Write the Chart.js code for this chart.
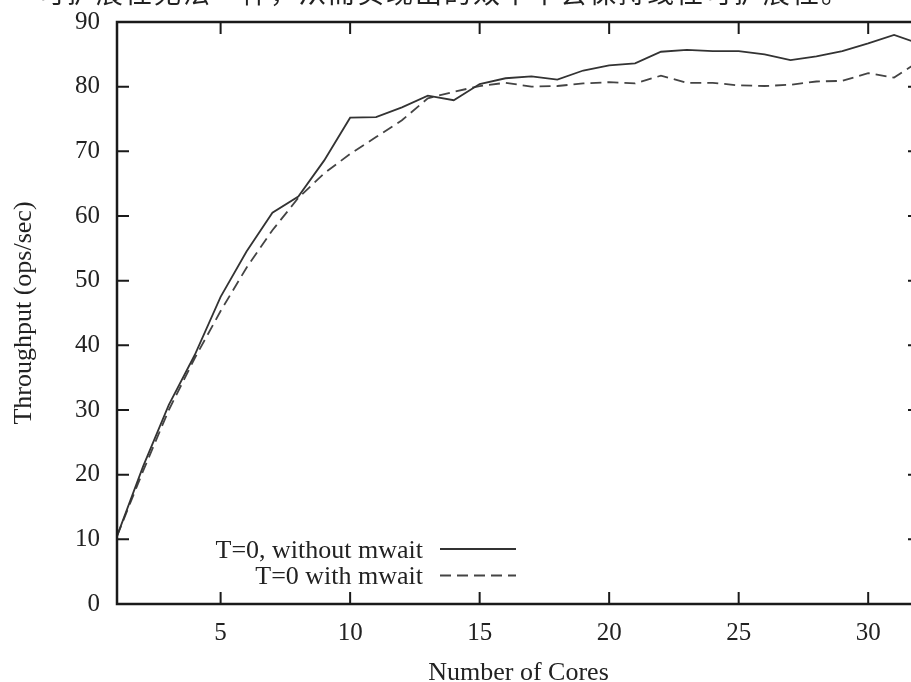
<!DOCTYPE html>
<html><head><meta charset="utf-8">
<script src="https://cdn.jsdelivr.net/npm/chart.js@4"></script>
<style>
html,body{margin:0;padding:0;width:911px;height:682px;overflow:hidden;background:#fff;}
#wrap{position:relative;width:930px;height:682px;}
#hdr{position:absolute;left:38px;top:-28px;font-family:"Noto Sans CJK SC";font-size:27px;color:#222;white-space:nowrap;letter-spacing:2px}
canvas{position:absolute;left:0;top:0}
</style></head>
<body><div id="wrap"><canvas id="c" width="930" height="682"></canvas><div id="hdr">可扩展性无法一样，从而实现出的效率不会保持线性可扩展性。</div></div>
<script>
const cores = [1,2,3,4,5,6,7,8,9,10,11,12,13,14,15,16,17,18,19,20,21,22,23,24,25,26,27,28,29,30,31,32];
const withoutMwait = [10.5,21.2,30.8,38.5,47.5,54.5,60.5,63.0,68.6,75.2,75.3,76.8,78.6,77.9,80.4,81.3,81.6,81.1,82.5,83.3,83.6,85.4,85.7,85.5,85.5,85.0,84.1,84.7,85.5,86.7,88.0,86.6];
const withMwait = [10.5,20.5,30.0,38.0,45.3,52.0,57.8,62.8,66.6,69.6,72.2,74.8,78.2,79.2,80.1,80.6,80.0,80.1,80.5,80.7,80.5,81.7,80.6,80.6,80.2,80.1,80.3,80.8,80.9,82.1,81.4,84.0];
const xTicks = [5,10,15,20,25,30];
const yTicks = [0,10,20,30,40,50,60,70,80,90];
const seriesLabels = ["T=0, without mwait","T=0 with mwait"];
const xTitle = "Number of Cores";
const yTitle = "Throughput (ops/sec)";

const SERIF = '"Liberation Serif","Times New Roman",serif';
const toPts = (ys) => cores.map((c,i)=>({x:c,y:ys[i]}));

const framePlugin = {
  id:'frame',
  afterDatasetsDraw(chart){
    const {ctx, chartArea:a, scales:{x,y}} = chart;
    ctx.save();
    ctx.strokeStyle = '#1a1a1a';
    ctx.lineWidth = 2;
    const tl = 12;
    ctx.beginPath();
    xTicks.forEach(v=>{
      const px = x.getPixelForValue(v);
      ctx.moveTo(px,a.bottom); ctx.lineTo(px,a.bottom-tl);
      ctx.moveTo(px,a.top); ctx.lineTo(px,a.top+tl);
    });
    yTicks.forEach(v=>{
      const py = y.getPixelForValue(v);
      ctx.moveTo(a.left,py); ctx.lineTo(a.left+tl,py);
      ctx.moveTo(a.right,py); ctx.lineTo(a.right-tl,py);
    });
    ctx.stroke();
    ctx.lineWidth = 2.5;
    ctx.strokeRect(a.left,a.top,a.right-a.left,a.bottom-a.top);
    // legend
    ctx.font = '26px ' + SERIF;
    ctx.fillStyle = '#222';
    ctx.textAlign = 'right';
    ctx.textBaseline = 'middle';
    chart.data.datasets.forEach((ds,i)=>{
      const ty = a.bottom - 53 + i*26.5;
      const tx = a.left + 306;
      ctx.fillText(ds.label, tx, ty);
      ctx.save();
      ctx.strokeStyle = ds.borderColor;
      ctx.lineWidth = ds.borderWidth;
      ctx.setLineDash(ds.borderDash || []);
      ctx.beginPath();
      ctx.moveTo(tx+17, ty-2); ctx.lineTo(tx+93, ty-2);
      ctx.stroke();
      ctx.restore();
    });
    ctx.restore();
  }
};

new Chart(document.getElementById('c'), {
  type:'line',
  data:{datasets:[
    {label:seriesLabels[0], data:toPts(withoutMwait), borderColor:'#333', borderWidth:1.8, pointRadius:0, tension:0, fill:false},
    {label:seriesLabels[1], data:toPts(withMwait), borderColor:'#444', borderWidth:1.8, borderDash:[11,6], pointRadius:0, tension:0, fill:false}
  ]},
  options:{
    responsive:false, animation:false, devicePixelRatio:1,
    layout:{padding:{left:0,top:22,right:10,bottom:0}},
    plugins:{legend:{display:false}, tooltip:{enabled:false}},
    scales:{
      x:{type:'linear', min:1, max:32,
        grid:{display:false, drawTicks:false}, border:{display:false},
        afterBuildTicks:(s)=>{ s.ticks = xTicks.map(v=>({value:v})); },
        afterFit:(s)=>{ s.height = 78; s.paddingLeft = 0; s.paddingRight = 0; },
        ticks:{color:'#222', font:{family:SERIF,size:25}, padding:14, maxRotation:0},
        title:{display:true, text:xTitle, color:'#222', font:{family:SERIF,size:26,lineHeight:0.7}, padding:{top:0,bottom:0}}
      },
      y:{type:'linear', min:0, max:90,
        grid:{display:false, drawTicks:false}, border:{display:false},
        afterBuildTicks:(s)=>{ s.ticks = yTicks.map(v=>({value:v})); },
        afterFit:(s)=>{ s.width = 117; s.paddingTop = 0; s.paddingBottom = 0; },
        ticks:{color:'#222', font:{family:SERIF,size:25}, padding:17},
        title:{display:true, text:yTitle, color:'#222', font:{family:SERIF,size:26}, padding:{top:9,bottom:0}}
      }
    }
  },
  plugins:[framePlugin]
});
</script>
</body></html>
